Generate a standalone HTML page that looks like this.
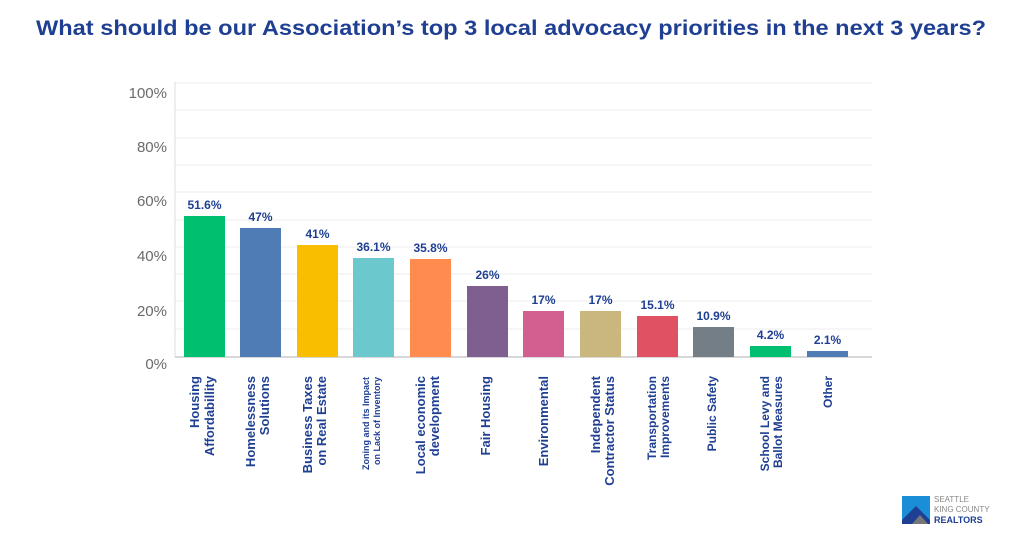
<!DOCTYPE html>
<html><head><style>
body{margin:0;background:#fff;}
svg text{font-family:"Liberation Sans","DejaVu Sans",sans-serif;}
</style></head><body>
<svg width="1024" height="536" viewBox="0 0 1024 536">
<text x="511" y="35" text-anchor="middle" font-size="21" font-weight="bold" fill="#1f3f93" textLength="950" lengthAdjust="spacingAndGlyphs">What should be our Association’s top 3 local advocacy priorities in the next 3 years?</text>
<g stroke="#ececec" stroke-width="1">
<line x1="175" x2="872" y1="83" y2="83"/><line x1="175" x2="872" y1="110" y2="110"/>
<line x1="175" x2="872" y1="138" y2="138"/><line x1="175" x2="872" y1="165" y2="165"/>
<line x1="175" x2="872" y1="192" y2="192"/><line x1="175" x2="872" y1="220" y2="220"/>
<line x1="175" x2="872" y1="247" y2="247"/><line x1="175" x2="872" y1="274" y2="274"/>
<line x1="175" x2="872" y1="301" y2="301"/><line x1="175" x2="872" y1="329" y2="329"/>
</g>
<line x1="175" x2="175" y1="82" y2="357" stroke="#ddd"/>
<line x1="175" x2="872" y1="357" y2="357" stroke="#ccc" stroke-width="1.5"/>
<g font-size="15" fill="#6a6a6a" text-anchor="end">
<text x="167" y="98">100%</text><text x="167" y="152">80%</text><text x="167" y="206">60%</text>
<text x="167" y="261">40%</text><text x="167" y="316">20%</text><text x="167" y="369">0%</text>
</g>
<g>
<rect x="184" y="216" width="41" height="141" fill="#00bf6f"/>
<rect x="240" y="228" width="41" height="129" fill="#507cb6"/>
<rect x="297" y="245" width="41" height="112" fill="#f9be00"/>
<rect x="353" y="258" width="41" height="99" fill="#6bc8cd"/>
<rect x="410" y="259" width="41" height="98" fill="#ff8b4f"/>
<rect x="467" y="286" width="41" height="71" fill="#7f5f90"/>
<rect x="523" y="311" width="41" height="46" fill="#d25f90"/>
<rect x="580" y="311" width="41" height="46" fill="#c9b77d"/>
<rect x="637" y="316" width="41" height="41" fill="#e05263"/>
<rect x="693" y="327" width="41" height="30" fill="#747e87"/>
<rect x="750" y="346" width="41" height="11" fill="#00bf6f"/>
<rect x="807" y="351" width="41" height="6" fill="#507cb6"/>
</g>
<g font-size="12" font-weight="bold" fill="#1f3f93" text-anchor="middle">
<text x="204.5" y="209">51.6%</text><text x="260.5" y="221">47%</text><text x="317.5" y="238">41%</text>
<text x="373.5" y="251">36.1%</text><text x="430.5" y="252">35.8%</text><text x="487.5" y="279">26%</text>
<text x="543.5" y="304">17%</text><text x="600.5" y="304">17%</text><text x="657.5" y="309">15.1%</text>
<text x="713.5" y="320">10.9%</text><text x="770.5" y="339">4.2%</text><text x="827.5" y="344">2.1%</text>
</g>
<g font-size="13" font-weight="bold" fill="#1f3f93" text-anchor="end">
<text transform="translate(199,376) rotate(-90)">Housing</text>
<text transform="translate(214,376) rotate(-90)">Affordabillity</text>
<text transform="translate(255,376) rotate(-90)">Homelessness</text>
<text transform="translate(269,376) rotate(-90)">Solutions</text>
<text transform="translate(312,376) rotate(-90)">Business Taxes</text>
<text transform="translate(326,376) rotate(-90)">on Real Estate</text>
<text font-size="9" transform="translate(369,377) rotate(-90)">Zoning and its Impact</text>
<text font-size="9" transform="translate(380,377) rotate(-90)">on Lack of Inventory</text>
<text transform="translate(425,376) rotate(-90)">Local economic</text>
<text transform="translate(439,376) rotate(-90)">development</text>
<text transform="translate(490,376) rotate(-90)">Fair Housing</text>
<text transform="translate(548,376) rotate(-90)">Environmental</text>
<text transform="translate(600,376) rotate(-90)">Independent</text>
<text transform="translate(614,376) rotate(-90)">Contractor Status</text>
<text font-size="12" transform="translate(656,376) rotate(-90)">Transportation</text>
<text font-size="12" transform="translate(669,376) rotate(-90)">Improvements</text>
<text font-size="12" transform="translate(716,376) rotate(-90)">Public Safety</text>
<text font-size="12" transform="translate(769,376) rotate(-90)">School Levy and</text>
<text font-size="12" transform="translate(782,376) rotate(-90)">Ballot Measures</text>
<text font-size="12" transform="translate(832,376) rotate(-90)">Other</text>
</g>
<g>
<rect x="902" y="496" width="28" height="28" fill="#1a8fd8"/>
<polygon points="902,520 916,506 930,520 930,524 902,524" fill="#1f3f93"/>
<polygon points="912,524 920,515 928,524" fill="#777"/>
<text x="934" y="502" font-size="8" fill="#888">SEATTLE</text>
<text x="934" y="512" font-size="8" fill="#888">KING COUNTY</text>
<text x="934" y="523" font-size="9" font-weight="bold" fill="#1f3f93">REALTORS</text>
</g>
</svg>
</body></html>
